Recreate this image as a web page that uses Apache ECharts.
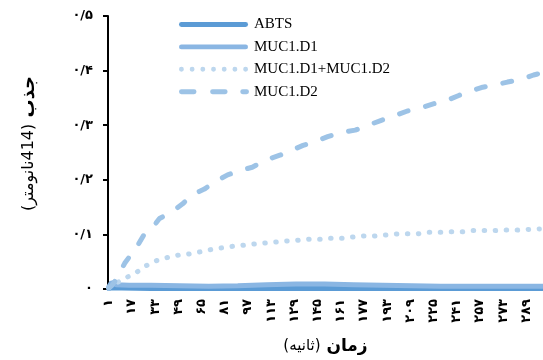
<!DOCTYPE html>
<html>
<head>
<meta charset="utf-8">
<script src="https://cdn.jsdelivr.net/npm/echarts@6/dist/echarts.min.js"></script>
<style>
  html, body { margin: 0; padding: 0; background: #fff; }
  #chart { width: 543px; height: 360px; }
</style>
</head>
<body>
<div id="chart"></div>
<script>
// Time axis: one category per second
const SECONDS = Array.from({ length: 300 }, (_, i) => String(i + 1));

// Y ticks (absorbance)
const Y_TICKS = [0, 0.1, 0.2, 0.3, 0.4, 0.5];

// Series names
const NAMES = ['ABTS', 'MUC1.D1', 'MUC1.D1+MUC1.D2', 'MUC1.D2'];

// ABTS
const abtsSec = [1, 3, 10, 30, 60, 90, 120, 150, 180, 210, 240, 270, 300];
const abtsVal = [0.001, 0.002, 0.002, 0.001, 0.001, 0.001, 0.001, 0.001, 0.001, 0.001, 0.001, 0.001, 0.001];

// MUC1.D1
const d1Sec = [1, 3, 6, 15, 30, 50, 70, 90, 110, 130, 150, 170, 190, 210, 230, 250, 270, 300];
const d1Val = [0.004, 0.012, 0.008, 0.007, 0.007, 0.006, 0.005, 0.006, 0.008, 0.009, 0.009, 0.008, 0.007, 0.006, 0.005, 0.005, 0.005, 0.005];

// MUC1.D1+MUC1.D2
const mixSec = [1, 4, 7, 14, 21, 27, 34, 42, 49, 56, 64, 71, 78, 86, 93, 100, 108, 116, 124, 131, 139, 147, 154, 162, 169, 177, 184, 192, 200, 207, 214, 222, 230, 237, 245, 252, 260, 267, 275, 283, 290, 298];
const mixVal = [0.002, 0.007, 0.012, 0.022, 0.032, 0.043, 0.052, 0.058, 0.062, 0.064, 0.068, 0.072, 0.075, 0.078, 0.080, 0.082, 0.084, 0.086, 0.088, 0.089, 0.091, 0.091, 0.093, 0.093, 0.095, 0.097, 0.097, 0.099, 0.101, 0.101, 0.101, 0.104, 0.104, 0.105, 0.105, 0.107, 0.107, 0.107, 0.108, 0.108, 0.109, 0.110];

// MUC1.D2
const d2Sec = [1, 3, 5, 7, 10, 12, 15, 18, 21, 25, 31, 36, 45, 52, 59, 67, 74, 83, 93, 100, 109, 119, 127, 135, 145, 152, 160, 171, 180, 189, 198, 207, 218, 226, 234, 242, 250, 258, 268, 276, 287, 294, 300];
const d2Val = [0.002, 0.006, 0.013, 0.022, 0.037, 0.047, 0.058, 0.067, 0.080, 0.098, 0.112, 0.129, 0.142, 0.156, 0.173, 0.183, 0.196, 0.209, 0.218, 0.223, 0.236, 0.245, 0.254, 0.263, 0.272, 0.279, 0.286, 0.291, 0.300, 0.309, 0.317, 0.326, 0.333, 0.340, 0.345, 0.354, 0.362, 0.369, 0.374, 0.379, 0.385, 0.392, 0.396];

const FA_DIGITS = '۰۱۲۳۴۵۶۷۸۹';
const toFa = s => String(s).replace(/[0-9]/g, d => FA_DIGITS[+d]).replace('.', '/');

const pairs = (secs, vals) => secs.map((s, i) => [s - 1, vals[i]]);

const FA_FONT = '"DejaVu Sans", sans-serif';

// Legend swatches drawn in a 72x14 box (the leading moves pin the box size)
const BOX = 'M0 0 M72 14 ';
const seg = (x0, x1) => `M${x0 + 2.5} 4.5 L${x1 - 2.5} 4.5 A2.5 2.5 0 0 1 ${x1 - 2.5} 9.5 L${x0 + 2.5} 9.5 A2.5 2.5 0 0 1 ${x0 + 2.5} 4.5 Z `;
const dot = cx => `M${cx - 2.5} 7 A2.5 2.5 0 1 0 ${cx + 2.5} 7 A2.5 2.5 0 1 0 ${cx - 2.5} 7 Z `;
const ICON_SOLID = 'path://' + BOX + seg(0, 71);
const ICON_DOTTED = 'path://' + BOX + [2.5, 13.5, 24.5, 35.5, 46.5, 57.5, 68.5].map(dot).join('');
const ICON_DASHED = 'path://' + BOX + seg(0, 18) + seg(32, 50) + seg(63, 72);

const chart = echarts.init(document.getElementById('chart'), null, { renderer: 'canvas' });

chart.setOption({
  animation: false,
  backgroundColor: '#ffffff',
  grid: { left: 108, right: 0, top: 16, bottom: 66, containLabel: false },
  legend: {
    orient: 'vertical',
    left: 174,
    top: 12,
    itemWidth: 70,
    itemHeight: 14,
    itemGap: 7.4,
    itemStyle: { borderWidth: 0 },
    data: [
      { name: NAMES[0], icon: ICON_SOLID },
      { name: NAMES[1], icon: ICON_SOLID },
      { name: NAMES[2], icon: ICON_DOTTED },
      { name: NAMES[3], icon: ICON_DASHED }
    ],
    textStyle: { fontFamily: '"Liberation Serif", serif', fontSize: 15, color: '#000' }
  },
  xAxis: {
    type: 'category',
    data: SECONDS,
    boundaryGap: true,
    axisLine: { show: false },
    axisTick: { show: false },
    axisLabel: {
      interval: 15,
      rotate: 90,
      margin: 10,
      color: '#000',
      fontFamily: FA_FONT,
      fontSize: 13,
      fontWeight: 'bold',
      formatter: v => toFa(v)
    },
    name: '{n|(ثانیه)}{b| زمان}',
    nameLocation: 'middle',
    nameGap: 49,
    nameTextStyle: {
      rich: {
        n: { fontFamily: FA_FONT, fontSize: 15, color: '#000' },
        b: { fontFamily: FA_FONT, fontSize: 17, fontWeight: 'bold', color: '#000' }
      }
    }
  },
  yAxis: {
    type: 'value',
    min: Y_TICKS[0],
    max: Y_TICKS[Y_TICKS.length - 1],
    interval: 0.1,
    splitLine: { show: false },
    axisLine: { show: true, lineStyle: { color: '#000', width: 2 } },
    axisTick: { show: true, length: 5, lineStyle: { color: '#000', width: 2 } },
    axisLabel: {
      margin: 15,
      color: '#000',
      fontFamily: FA_FONT,
      fontSize: 13,
      fontWeight: 'bold',
      formatter: v => toFa(Math.round(v * 10) / 10)
    },
    name: '{n|(نانومتر}{n|414)}{b| جذب}',
    nameLocation: 'middle',
    nameGap: 70,
    nameTextStyle: {
      padding: [0, 0, 0, 18],
      rich: {
        n: { fontFamily: FA_FONT, fontSize: 16, color: '#000' },
        b: { fontFamily: FA_FONT, fontSize: 18, fontWeight: 'bold', color: '#000' }
      }
    }
  },
  series: [
    {
      name: NAMES[0], type: 'line', symbol: 'none', clip: false,
      data: pairs(abtsSec, abtsVal),
      lineStyle: { color: '#5B9BD5', width: 5, cap: 'round' },
      itemStyle: { color: '#5B9BD5' }
    },
    {
      name: NAMES[1], type: 'line', symbol: 'none', clip: false,
      data: pairs(d1Sec, d1Val),
      lineStyle: { color: '#8AB6E3', width: 5, cap: 'round' },
      itemStyle: { color: '#8AB6E3' }
    },
    {
      name: NAMES[2], type: 'line', symbol: 'none', clip: false,
      data: pairs(mixSec, mixVal),
      lineStyle: { color: '#BDD7EE', width: 5, type: [0.5, 10.5], cap: 'round' },
      itemStyle: { color: '#BDD7EE' }
    },
    {
      name: NAMES[3], type: 'line', symbol: 'none', clip: false,
      data: pairs(d2Sec, d2Val),
      lineStyle: { color: '#9DC3E6', width: 5, type: [9, 18], cap: 'round' },
      itemStyle: { color: '#9DC3E6' }
    }
  ]
});
</script>
</body>
</html>
